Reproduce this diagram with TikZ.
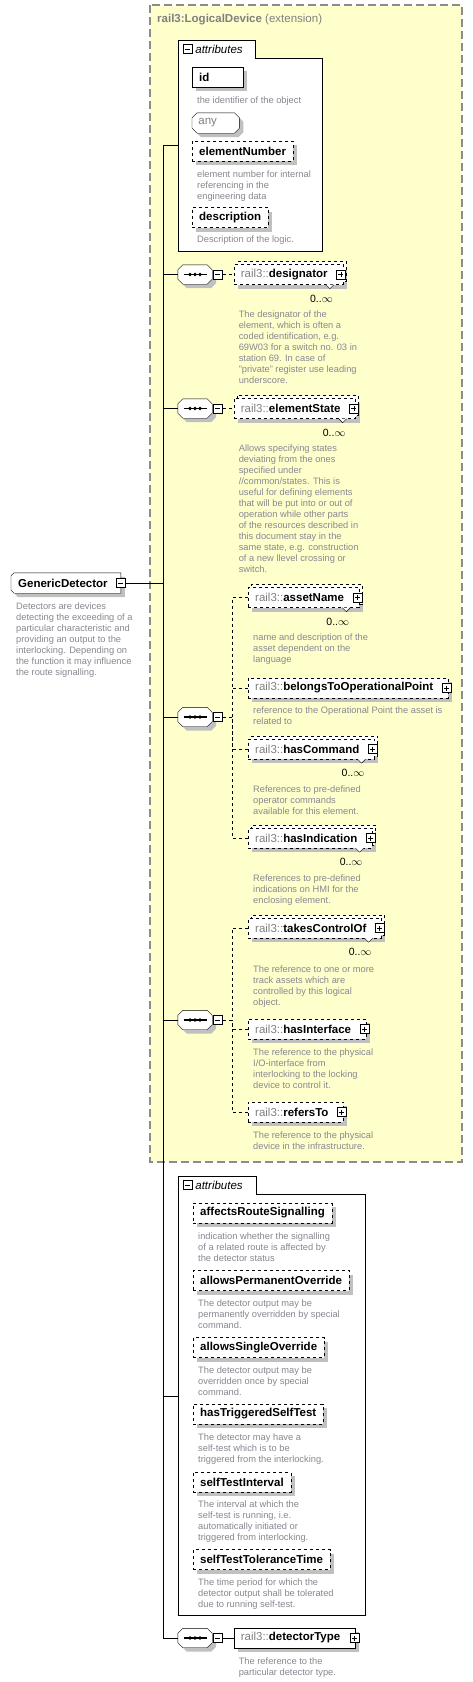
\documentclass[tikz,border=0pt]{standalone}
\usepackage{fontspec}
\setmainfont{Liberation Sans}
\usepackage{tikz}
\usetikzlibrary{positioning}
\usetikzlibrary{shadows}

\definecolor{extfill}{RGB}{255,255,204}
\definecolor{extline}{RGB}{140,140,140}
\definecolor{desctext}{RGB}{135,135,145}
\definecolor{prefixgray}{RGB}{128,128,128}
\definecolor{shadegray}{RGB}{192,192,192}

\newcommand{\pfx}{\textcolor{prefixgray}{\mdseries rail3::}}
\newcommand{\occnotch}[1]{\draw[fill=white] ([xshift=-17pt]#1.south east) -- ++(4pt,-4pt) -- ++(4pt,4pt);}

\tikzset{
	boxshadow/.style={drop shadow={shadow xshift=4pt, shadow yshift=-4pt, fill=shadegray, opacity=1}},
	elem/.style={draw, fill=white, boxshadow, anchor=west, minimum height=20pt, inner xsep=7pt, inner ysep=0pt, font=\fontsize{11.5}{13}\selectfont\bfseries},
	optelem/.style={elem, dashed},
	multielem/.style={optelem, copy shadow={shadow xshift=3pt, shadow yshift=3pt, draw=black, fill=white, dashed}},
	% octagon outline drawn under the node
	octagon/.style={append after command={\pgfextra{\draw[fill=white, boxshadow]
		([xshift=#1]\tikzlastnode.north west) -- ([xshift=-#1]\tikzlastnode.north east)
		-- ([yshift=-#1]\tikzlastnode.north east) -- ([yshift=#1]\tikzlastnode.south east)
		-- ([xshift=-#1]\tikzlastnode.south east) -- ([xshift=#1]\tikzlastnode.south west)
		-- ([yshift=#1]\tikzlastnode.south west) -- ([yshift=-#1]\tikzlastnode.north west) -- cycle;}}},
	leftcut/.style={append after command={\pgfextra{\draw[fill=white, boxshadow]
		([xshift=#1]\tikzlastnode.north west) -- (\tikzlastnode.north east) -- (\tikzlastnode.south east)
		-- ([xshift=#1]\tikzlastnode.south west) -- ([yshift=#1]\tikzlastnode.south west)
		-- ([yshift=-#1]\tikzlastnode.north west) -- cycle;}}},
	globalelem/.style={anchor=west, minimum height=20pt, inner xsep=7pt, inner ysep=0pt, font=\fontsize{11.5}{13}\selectfont\bfseries, leftcut=3pt},
	anybox/.style={anchor=west, minimum width=47pt, minimum height=20pt, inner sep=0pt, text=prefixgray, font=\fontsize{11.5}{13}\selectfont, octagon=5pt},
	seq/.style={minimum width=34pt, minimum height=19pt, inner sep=0pt, octagon=5pt,
		append after command={\pgfextra{
			\draw[line width=1.2pt] ([xshift=6pt]\tikzlastnode.west) -- ([xshift=-5pt]\tikzlastnode.east);
			\fill (\tikzlastnode.center) circle (1.9pt)
				([xshift=-5pt]\tikzlastnode.center) circle (1.9pt)
				([xshift=5pt]\tikzlastnode.center) circle (1.9pt);}}},
	minusbox/.style={draw, solid, fill=white, minimum size=9pt, inner sep=0pt,
		path picture={\draw ([xshift=2pt]path picture bounding box.west) -- ([xshift=-2pt]path picture bounding box.east);}},
	plusbox/.style={minusbox,
		path picture={\draw ([xshift=2pt]path picture bounding box.west) -- ([xshift=-2pt]path picture bounding box.east)
			([yshift=-2pt]path picture bounding box.north) -- ([yshift=2pt]path picture bounding box.south);}},
	desc/.style={anchor=north west, align=left, inner sep=0pt, text=desctext, font=\fontsize{9.3}{11}\selectfont},
	occurs/.style={anchor=east, inner sep=0pt, font=\fontsize{10.5}{12}\selectfont},
	groupbox/.style={draw, fill=white},
	tabtext/.style={inner sep=0pt, font=\fontsize{11.5}{13}\selectfont\itshape},
	extbox/.style={draw=extline, fill=extfill, line width=1.1pt, dash pattern=on 8pt off 4pt},
	exttitle/.style={anchor=west, inner sep=0pt, text=prefixgray, font=\fontsize{11.5}{13}\selectfont}
}

\begin{document}
\begin{tikzpicture}[x=1pt, y=-1pt]

	% ---------------------
	% Proper size --- Bounding box
	\useasboundingbox (0,0) rectangle (473,1682);

	% ---------------------
	% Extension area
	\draw[extbox] (150,5) rectangle (462,1162);
	\node[exttitle] (ExtTitle) at (157,20) {\textbf{rail3:LogicalDevice} (extension)};

	\coordinate (SpineTop) at (163,145);
	\coordinate (SpineBot) at (163,1638);

	% ---------------------
	% Root element
	\node[globalelem] (Detector) at (11,583) {GenericDetector\kern6pt};
	\node[minusbox] (DetectorMinus) at (Detector.east) {};
	\node[desc] (DetectorDesc) at ([shift={(5,9)}]Detector.south west) {Detectors are devices\\detecting the exceeding of a\\particular characteristic and\\providing an output to the\\interlocking. Depending on\\the function it may influence\\the route signalling.};

	% ---------------------
	% Inherited attributes
	\draw[groupbox] (178,251) -- (178,40) -- (255,40) -- (255,58) -- (322,58) -- (322,251) -- cycle;
	\node[minusbox] (Attr1m) at (187.5,49) {};
	\node[tabtext, right=3pt of Attr1m] (Attr1) {attributes};
	\coordinate (Attr1Link) at (178,145);

	\node[elem, text width=37pt] (Id) at (192,77) {id};
	\node[desc] (IdDesc) at ([shift={(5,9)}]Id.south west) {the identifier of the object};
	\node[anybox] (Any) at (192,123) {any\kern16pt};
	\node[optelem] (ElemNumber) at (192,151) {elementNumber};
	\node[desc] (ElemNumberDesc) at ([shift={(5,9)}]ElemNumber.south west) {element number for internal\\referencing in the\\engineering data};
	\node[optelem] (Descr) at (192,217.5) {description};
	\node[desc] (DescrDesc) at ([shift={(5,8)}]Descr.south west) {Description of the logic.};

	% ---------------------
	% designator
	\node[seq] (Seq1) at (195,274.5) {};
	\node[minusbox, right=1pt of Seq1] (Seq1m) {};
	\node[multielem, right=11pt of Seq1m] (Designator) {\pfx designator\kern8pt};
	\node[plusbox] (DesignatorPlus) at ([xshift=-2pt]Designator.east) {};
	\occnotch{Designator}
	\node[occurs] (DesignatorOcc) at ([shift={(-10,14)}]Designator.south east) {0..$\infty$};
	\node[desc] (DesignatorDesc) at ([shift={(5,26)}]Designator.south west) {The designator of the\\element, which is often a\\coded identification, e.g.\\69W03 for a switch no. 03 in\\station 69. In case of\\"private" register use leading\\underscore.};

	% ---------------------
	% elementState
	\node[seq] (Seq2) at (195,408.5) {};
	\node[minusbox, right=1pt of Seq2] (Seq2m) {};
	\node[multielem, right=11pt of Seq2m] (ElemState) {\pfx elementState\kern8pt};
	\node[plusbox] (ElemStatePlus) at ([xshift=-2pt]ElemState.east) {};
	\occnotch{ElemState}
	\node[occurs] (ElemStateOcc) at ([shift={(-10,14)}]ElemState.south east) {0..$\infty$};
	\node[desc] (ElemStateDesc) at ([shift={(5,26)}]ElemState.south west) {Allows specifying states\\deviating from the ones\\specified under\\//common/states. This is\\useful for defining elements\\that will be put into or out of\\operation while other parts\\of the resources described in\\this document stay in the\\same state, e.g. construction\\of a new llevel crossing or\\switch.};

	% ---------------------
	% asset group
	\node[seq] (Seq3) at (195,717) {};
	\node[minusbox, right=1pt of Seq3] (Seq3m) {};
	\coordinate (Fork3) at (232,717);

	\node[multielem] (AssetName) at (248,597.5) {\pfx assetName\kern8pt};
	\node[plusbox] (AssetNamePlus) at ([xshift=-2pt]AssetName.east) {};
	\occnotch{AssetName}
	\node[occurs] (AssetNameOcc) at ([shift={(-10,14)}]AssetName.south east) {0..$\infty$};
	\node[desc] (AssetNameDesc) at ([shift={(5,26)}]AssetName.south west) {name and description of the\\asset dependent on the\\language};

	\node[optelem] (BelongsTo) at (248,688) {\pfx belongsToOperationalPoint\kern8pt};
	\node[plusbox] (BelongsToPlus) at ([xshift=-2pt]BelongsTo.east) {};
	\node[desc] (BelongsToDesc) at ([shift={(5,8)}]BelongsTo.south west) {reference to the Operational Point the asset is\\related to};

	\node[multielem] (HasCommand) at (248,749) {\pfx hasCommand\kern8pt};
	\node[plusbox] (HasCommandPlus) at ([xshift=-2pt]HasCommand.east) {};
	\occnotch{HasCommand}
	\node[occurs] (HasCommandOcc) at ([shift={(-10,14)}]HasCommand.south east) {0..$\infty$};
	\node[desc] (HasCommandDesc) at ([shift={(5,26)}]HasCommand.south west) {References to pre-defined\\operator commands\\available for this element.};

	\node[multielem] (HasIndication) at (248,838) {\pfx hasIndication\kern8pt};
	\node[plusbox] (HasIndicationPlus) at ([xshift=-2pt]HasIndication.east) {};
	\occnotch{HasIndication}
	\node[occurs] (HasIndicationOcc) at ([shift={(-10,14)}]HasIndication.south east) {0..$\infty$};
	\node[desc] (HasIndicationDesc) at ([shift={(5,26)}]HasIndication.south west) {References to pre-defined\\indications on HMI for the\\enclosing element.};

	% ---------------------
	% control group
	\node[seq] (Seq4) at (195,1020) {};
	\node[minusbox, right=1pt of Seq4] (Seq4m) {};
	\coordinate (Fork4) at (232,1020);

	\node[multielem] (TakesControl) at (248,928) {\pfx takesControlOf\kern8pt};
	\node[plusbox] (TakesControlPlus) at ([xshift=-2pt]TakesControl.east) {};
	\occnotch{TakesControl}
	\node[occurs] (TakesControlOcc) at ([shift={(-10,14)}]TakesControl.south east) {0..$\infty$};
	\node[desc] (TakesControlDesc) at ([shift={(5,27)}]TakesControl.south west) {The reference to one or more\\track assets which are\\controlled by this logical\\object.};

	\node[optelem] (HasInterface) at (248,1029) {\pfx hasInterface\kern8pt};
	\node[plusbox] (HasInterfacePlus) at ([xshift=-2pt]HasInterface.east) {};
	\node[desc] (HasInterfaceDesc) at ([shift={(5,9)}]HasInterface.south west) {The reference to the physical\\I/O-interface from\\interlocking to the locking\\device to control it.};

	\node[optelem] (RefersTo) at (248,1112) {\pfx refersTo\kern8pt};
	\node[plusbox] (RefersToPlus) at ([xshift=-2pt]RefersTo.east) {};
	\node[desc] (RefersToDesc) at ([shift={(5,9)}]RefersTo.south west) {The reference to the physical\\device in the infrastructure.};

	% ---------------------
	% Own attributes
	\draw[groupbox] (178,1615) -- (178,1176) -- (256,1176) -- (256,1194) -- (365,1194) -- (365,1615) -- cycle;
	\node[minusbox] (Attr2m) at (187.5,1185) {};
	\node[tabtext, right=3pt of Attr2m] (Attr2) {attributes};
	\coordinate (Attr2Link) at (178,1396);

	\node[optelem] (AffectsRoute) at (193,1213) {affectsRouteSignalling};
	\node[desc] (AffectsRouteDesc) at ([shift={(5,9)}]AffectsRoute.south west) {indication whether the signalling\\of a related route is affected by\\the detector status};
	\node[optelem] (PermOverride) at (193,1280.5) {allowsPermanentOverride};
	\node[desc] (PermOverrideDesc) at ([shift={(5,9)}]PermOverride.south west) {The detector output may be\\permanently overridden by special\\command.};
	\node[optelem] (SingleOverride) at (193,1347.5) {allowsSingleOverride};
	\node[desc] (SingleOverrideDesc) at ([shift={(5,9)}]SingleOverride.south west) {The detector output may be\\overridden once by special\\command.};
	\node[optelem] (TrigSelfTest) at (193,1414) {hasTriggeredSelfTest};
	\node[desc] (TrigSelfTestDesc) at ([shift={(5,9)}]TrigSelfTest.south west) {The detector may have a\\self-test which is to be\\triggered from the interlocking.};
	\node[optelem] (SelfTestInt) at (193,1482) {selfTestInterval};
	\node[desc] (SelfTestIntDesc) at ([shift={(5,8)}]SelfTestInt.south west) {The interval at which the\\self-test is running, i.e.\\automatically initiated or\\triggered from interlocking.};
	\node[optelem] (SelfTestTol) at (193,1559.5) {selfTestToleranceTime};
	\node[desc] (SelfTestTolDesc) at ([shift={(5,9)}]SelfTestTol.south west) {The time period for which the\\detector output shall be tolerated\\due to running self-test.};

	% ---------------------
	% detectorType
	\node[seq] (Seq5) at (195,1638) {};
	\node[minusbox, right=1pt of Seq5] (Seq5m) {};
	\node[elem, right=11pt of Seq5m] (DetectorType) {\pfx detectorType\kern8pt};
	\node[plusbox] (DetectorTypePlus) at ([xshift=-1pt]DetectorType.east) {};
	\node[desc] (DetectorTypeDesc) at ([shift={(5,9)}]DetectorType.south west) {The reference to the\\particular detector type.};

	% ---------------------
	% Connectors
	\draw (DetectorMinus) -- (DetectorMinus -| SpineTop);
	\draw (Attr1Link) -- (SpineTop) -- (SpineBot) -- (Seq5.west);
	\draw (Attr2Link) -- (Attr2Link -| SpineTop);
	\draw (Seq1.west) -- (Seq1 -| SpineTop);
	\draw (Seq2.west) -- (Seq2 -| SpineTop);
	\draw (Seq3.west) -- (Seq3 -| SpineTop);
	\draw (Seq4.west) -- (Seq4 -| SpineTop);

	\draw[dashed] (Seq1m) -- (Designator);
	\draw[dashed] (Seq2m) -- (ElemState);
	\draw (Seq5m) -- (DetectorType);

	\draw[dashed] (Seq3m) -- (Fork3);
	\draw[dashed] (AssetName.west) -| (Fork3);
	\draw[dashed] (BelongsTo.west) -| (Fork3);
	\draw[dashed] (HasCommand.west) -| (Fork3);
	\draw[dashed] (HasIndication.west) -| (Fork3);

	\draw[dashed] (Seq4m) -- (Fork4);
	\draw[dashed] (TakesControl.west) -| (Fork4);
	\draw[dashed] (HasInterface.west) -| (Fork4);
	\draw[dashed] (RefersTo.west) -| (Fork4);

\end{tikzpicture}
\end{document}
